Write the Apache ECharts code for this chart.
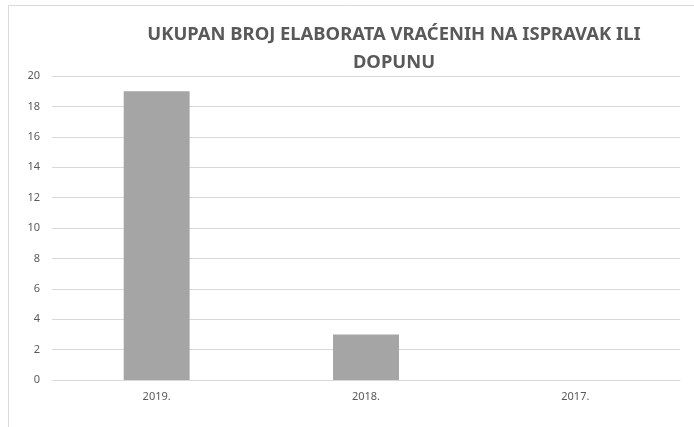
<!DOCTYPE html>
<html>
<head>
    <meta charset="utf-8" />
    <title></title>
    <script src="https://cdn.jsdelivr.net/npm/echarts@6/dist/echarts.min.js"></script>
    <style>
        html, body { margin: 0; padding: 0; background: #fff; }
        #divChart { width: 694px; height: 427px; }
    </style>
</head>
<body>
    <div id="divChart"></div>
    <script>
        let categories = ['2019.', '2018.', '2017.'];
        let values = [19, 3, 0];
        let titleLines = ['UKUPAN BROJ ELABORATA VRAĆENIH NA ISPRAVAK ILI', 'DOPUNU'];

        function InitChart() {
            var option = {
                backgroundColor: '#fff',
                animation: false,
                graphic: [
                    {
                        type: 'rect',
                        shape: { x: 8.5, y: 5.5, width: 720, height: 440 },
                        style: { fill: 'none', stroke: '#d9d9d9', lineWidth: 1 }
                    },
                    {
                        type: 'text',
                        x: 394,
                        y: 21,
                        style: {
                            text: titleLines.join('\n'),
                            align: 'center',
                            fill: '#595959',
                            font: 'bold 18.4px "Noto Sans"',
                            lineHeight: 28
                        }
                    }
                ],
                grid: {
                    top: 76,
                    left: 52,
                    right: 14,
                    bottom: 47
                },
                xAxis: {
                    type: 'category',
                    data: categories,
                    axisTick: { show: false },
                    axisLine: { lineStyle: { color: '#d9d9d9' } },
                    axisLabel: {
                        margin: 11,
                        color: '#595959',
                        fontSize: 11,
                        fontFamily: '"Noto Sans"'
                    }
                },
                yAxis: {
                    type: 'value',
                    min: 0,
                    max: 20,
                    interval: 2,
                    axisLine: { show: false },
                    axisTick: { show: false },
                    axisLabel: {
                        margin: 12,
                        color: '#595959',
                        fontSize: 11,
                        fontFamily: '"Noto Sans"'
                    },
                    splitLine: { lineStyle: { color: '#d9d9d9' } }
                },
                series: [{
                    type: 'bar',
                    data: values,
                    barWidth: '31.5%',
                    itemStyle: { color: '#a5a5a5' }
                }]
            };
            echarts.init(document.getElementById('divChart')).setOption(option);
        }
        InitChart();
    </script>
</body>
</html>
